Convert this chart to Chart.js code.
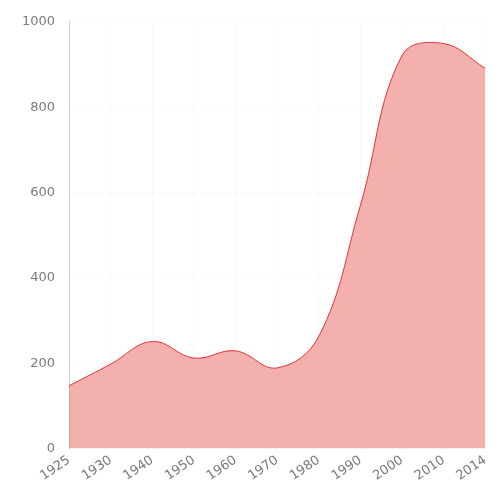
<!DOCTYPE html>
<html>
<head>
<meta charset="utf-8">
<script src="https://cdn.jsdelivr.net/npm/chart.js@4"></script>
<style>
  body { margin: 0; background: #fff; }
  #wrap { width: 498px; height: 490px; }
</style>
</head>
<body>
<div id="wrap"><canvas id="chart" width="498" height="490"></canvas></div>
<script>
  // data
  const years = ["1925", "1930", "1940", "1950", "1960", "1970", "1980", "1990", "2000", "2010", "2014"];
  const values = [147, 198, 251, 212, 229, 189, 263, 570, 921, 949, 891];
  const yTicks = [0, 200, 400, 600, 800, 1000];

  const ctx = document.getElementById("chart").getContext("2d");

  new Chart(ctx, {
    type: "line",
    data: {
      labels: years,
      datasets: [
        {
          data: values,
          borderColor: "#e2333b",
          borderWidth: 1,
          backgroundColor: "rgba(230, 80, 70, 0.45)",
          fill: "origin",
          tension: 0.4,
          pointRadius: 0,
        },
      ],
    },
    options: {
      responsive: false,
      animation: false,
      layout: {
        padding: { top: 12, right: 3, left: 8, bottom: 2 },
      },
      plugins: {
        legend: { display: false },
        tooltip: { enabled: false },
      },
      scales: {
        x: {
          offset: false,
          grid: { color: "rgba(0,0,0,0.025)", drawTicks: false },
          border: { display: false },
          ticks: {
            color: "#7a7a7a",
            font: { family: "DejaVu Sans", size: 13 },
            maxRotation: 34,
            minRotation: 34,
            padding: 4,
          },
        },
        y: {
          min: 0,
          max: 1000,
          afterBuildTicks: (axis) => {
            axis.ticks = yTicks.map((v) => ({ value: v }));
          },
          grid: { color: "rgba(0,0,0,0.025)", drawTicks: false },
          border: { display: true, color: "#cfcfcf" },
          ticks: {
            color: "#7a7a7a",
            font: { family: "DejaVu Sans", size: 13 },
            padding: 14,
            callback: (v) => String(v),
          },
        },
      },
    },
  });
</script>
</body>
</html>
